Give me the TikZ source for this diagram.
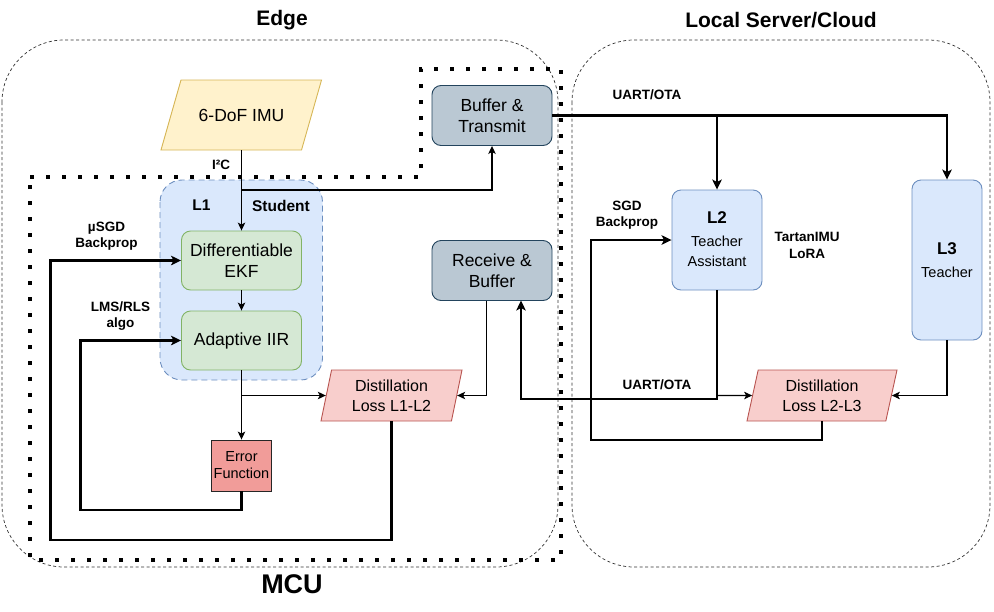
\documentclass[tikz,border=0pt]{standalone}
\usepackage{fontspec}
\setmainfont{Liberation Sans}
\usetikzlibrary{shapes.geometric,arrows.meta}
\definecolor{imufill}{HTML}{FFF2CC}\definecolor{imudraw}{HTML}{D6B656}
\definecolor{bluefill}{HTML}{DAE8FC}\definecolor{bluedraw}{HTML}{6C8EBF}
\definecolor{greenfill}{HTML}{D5E8D4}\definecolor{greendraw}{HTML}{82B366}
\definecolor{grayfill}{HTML}{BAC8D3}\definecolor{graydraw}{HTML}{23445D}
\definecolor{redfill}{HTML}{F8CECC}\definecolor{reddraw}{HTML}{B85450}
\definecolor{errfill}{HTML}{F19C99}
\newcommand\mainfs{\fontsize{17.5}{21.5}\selectfont}
\newcommand\distfs{\fontsize{16}{20}\selectfont}
\newcommand\smallfs{\fontsize{14.5}{17}\selectfont}
\newcommand\lblfs{\bfseries\fontsize{13.5}{16.3}\selectfont}
\begin{document}
\begin{tikzpicture}[x=1pt,y=-1pt,
  region/.style={draw=black!80, line width=0.7pt, dash pattern=on 3pt off 2.5pt, rounded corners=62pt},
  mculine/.style={draw=black, line width=3.6pt, dash pattern=on 3.6pt off 12.4pt},
  box/.style={draw, rounded corners=9pt, align=center, inner sep=0pt, font=\mainfs, line width=0.9pt},
  greenbox/.style={box, fill=greenfill, draw=greendraw, minimum width=120pt, minimum height=59pt},
  graybox/.style={box, fill=grayfill, draw=graydraw, minimum width=120pt, minimum height=60pt},
  bluebox/.style={box, fill=bluefill, draw=bluedraw},
  para/.style={trapezium, trapezium stretches body, draw, line width=0.9pt, align=center, inner sep=0pt},
  lbl/.style={font=\lblfs, align=center, inner sep=0pt},
  title/.style={font=\bfseries\fontsize{21}{25}\selectfont, inner sep=0pt},
  thinarr/.style={line width=1.1pt, -{Stealth[length=8pt,width=7.5pt,inset=2pt]}},
  thickarr/.style={line width=2.4pt, -{Stealth[length=10pt,width=9.5pt,inset=2.5pt]}},
]
\useasboundingbox (0,0) rectangle (994,611);

% regions
\draw[region] (2,40) rectangle (558,567);
\draw[region] (572,40) rectangle (990,567);
\draw[mculine] (30,177) -- (421,177) -- (421,69) -- (561,69) -- (561,560) -- (30,560) -- cycle;

\node[title] (tedge) at (282,20) {Edge};
\node[title] (tlocal) at (781,20) {Local Server/Cloud};
\node[font=\bfseries\fontsize{27}{31}\selectfont, inner sep=0pt] (tmcu) at (292,584) {MCU};

% L1 container
\draw[fill=bluefill, draw=bluedraw, line width=0.9pt, dash pattern=on 6pt off 4pt, rounded corners=22pt]
  (160,180) rectangle (322.5,380);
\node[font=\bfseries\fontsize{15.5}{18}\selectfont] (l1lbl) at (201.5,205.5) {L1};
\node[font=\bfseries\fontsize{15.5}{18}\selectfont] (stlbl) at (281,205.5) {Student};

% IMU parallelogram
\draw[fill=imufill, draw=imudraw, line width=0.9pt] (161,150) -- (181,80) -- (321.5,80) -- (301.5,150) -- cycle;
\node[minimum width=140pt, minimum height=70pt, inner sep=0pt, font=\mainfs] (imu) at (241.5,115) {6-DoF IMU};

% nodes
\node[greenbox] (ekf) at (241.5,260.5) {Differentiable\\EKF};
\node[greenbox] (iir) at (241.5,340.5) {Adaptive IIR};
\node[draw=black!85, fill=errfill, line width=0.9pt, minimum width=60.5pt, minimum height=51pt,
      align=center, inner sep=0pt, font=\smallfs] (err) at (241.5,465.5) {Error\\Function};
\node[para, trapezium left angle=71.6, trapezium right angle=108.4, fill=redfill, draw=reddraw,
      minimum width=141pt, minimum height=51pt, font=\distfs] (dl12) at (391.5,395.5) {Distillation\\Loss L1-L2};
\node[graybox] (bt) at (492,115.5) {Buffer \&\\Transmit};
\node[graybox] (rb) at (492,270.5) {Receive \&\\Buffer};

\node[bluebox, minimum width=90pt, minimum height=100pt] (l2) at (717,240) {};
\node[font=\bfseries\fontsize{17}{20}\selectfont, inner sep=0pt] (l2a) at (717,218) {L2};
\node[font=\fontsize{14.5}{20}\selectfont, align=center, inner sep=0pt] (l2b) at (717,251) {Teacher\\Assistant};
\node[bluebox, minimum width=70pt, minimum height=160pt] (l3) at (947,260) {};
\node[font=\bfseries\fontsize{17}{20}\selectfont, inner sep=0pt] (l3a) at (947,249) {L3};
\node[font=\fontsize{14.5}{20}\selectfont, inner sep=0pt] (l3b) at (947,272) {Teacher};
\node[para, trapezium left angle=70.6, trapezium right angle=109.4, fill=redfill, draw=reddraw,
      minimum width=150pt, minimum height=51pt, font=\distfs] (dl23) at (822,395.5) {Distillation\\Loss L2-L3};

% labels
\node[lbl] (i2c) at (221,165) {I²C};
\node[lbl] (musgd) at (106.5,236) {µSGD\\Backprop};
\node[lbl] (lms) at (120.5,316) {LMS/RLS\\algo};
\node[lbl] (uart1) at (647,95) {UART/OTA};
\node[lbl] (uart2) at (657,385) {UART/OTA};
\node[lbl] (sgd) at (627,215.5) {SGD\\Backprop};
\node[lbl] (tartan) at (807,245.5) {TartanIMU\\LoRA};

% coordinates
\coordinate (brA) at (241.5,190);
\coordinate (brB) at (241.5,395.5);
\coordinate (rbout) at (486.5,300.5);
\coordinate (rbin) at (521,300.5);
\coordinate (l2turn) at (717,399);
\coordinate (brC) at (717,395.5);
\coordinate (c23) at (591,440);
\coordinate (c12) at (50.5,540);
\coordinate (cerr) at (80.5,510);

% connectors
\draw[thinarr] (imu) -- (ekf);
\draw[thinarr] (brA) -| (bt);
\draw[thinarr] (ekf) -- (iir);
\draw[thinarr] (iir) -- (err);
\draw[thinarr] (brB) -- (dl12);
\draw[thinarr] (rbout) |- (dl12);
\draw[thickarr] (bt.east) -| (l3);
\draw[thickarr] (l2.north |- bt.east) -- (l2);
\draw[thickarr] (l2.south) -- (l2turn) -| (rbin);
\draw[thinarr] (brC) -- (dl23);
\draw[thinarr] (l3.south) |- (dl23);
\draw[thickarr] (dl23.south) |- (c23) |- (l2.west);
\draw[thickarr] (dl12.south) |- (c12) |- (ekf.west);
\draw[thickarr] (err.south) |- (cerr) |- (iir.west);
\end{tikzpicture}
\end{document}
